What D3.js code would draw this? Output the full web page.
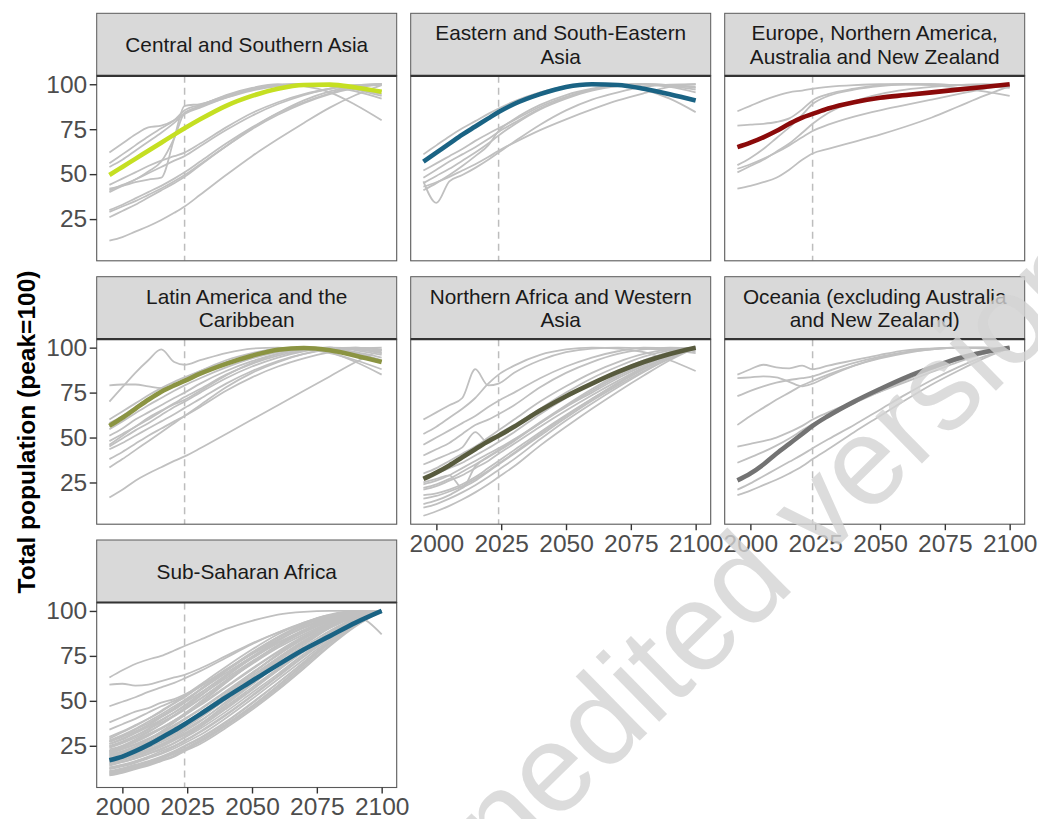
<!DOCTYPE html>
<html><head><meta charset="utf-8">
<script src="https://cdn.jsdelivr.net/npm/d3@7"></script>
<style>
body{margin:0;background:#fff;}
svg{display:block;font-family:"Liberation Sans",Arial,sans-serif;}
</style></head><body>
<svg id="chart" width="1038" height="819"></svg>
<script>
// ---------------- DATA ----------------
const years = [1995, 2000, 2005, 2010, 2015, 2020, 2024, 2030, 2040, 2050, 2060, 2070, 2080, 2090, 2100];
const xTicks = [2000, 2025, 2050, 2075, 2100];
const yTicks = [25, 50, 75, 100];
const baseYear = 2024;
const regionLabels = [
  ["Central and Southern Asia"],
  ["Eastern and South-Eastern", "Asia"],
  ["Europe, Northern America,", "Australia and New Zealand"],
  ["Latin America and the", "Caribbean"],
  ["Northern Africa and Western", "Asia"],
  ["Oceania (excluding Australia", "and New Zealand)"],
  ["Sub-Saharan Africa"]
];
const highlightColors = ["#c5df22", "#1a6384", "#8b0a0a", "#8b9442", "#585b3e", "#737373", "#1a6384"];

// regional aggregate (highlighted) series
const csaRegion  = [49.5, 54, 58.5, 63, 67.5, 72, 75.5, 80.5, 88, 93.5, 97.5, 99.6, 99.8, 98.2, 95.8];
const esaRegion  = [57, 62, 67, 72, 76.5, 81, 84.5, 89, 94.5, 98.5, 100, 99.6, 97.5, 94.5, 91];
const eurRegion  = [65, 67.5, 70.5, 74, 78, 81.5, 83.5, 86.5, 90, 92.5, 94, 95.5, 97, 98.5, 100];
const lacRegion  = [56.5, 61, 66, 71, 75.5, 79, 81.5, 85.5, 91, 95.5, 98.8, 99.8, 98.5, 95.5, 92];
const nawaRegion = [27, 30.5, 34.5, 39, 43.5, 48, 51, 56, 65, 73, 80, 86.5, 92, 96.5, 100];
const oceRegion  = [26.2, 30, 35, 41, 46.5, 52, 56.5, 62, 70, 77, 83.5, 89, 94, 97.5, 100];
const ssaRegion  = [17, 19, 22, 25.5, 29.5, 33.5, 37, 42.5, 52, 61, 70, 78.5, 86, 93.5, 100];

// country series (grey)
const csaCountries = [
  [62, 67, 72, 76, 77, 80, 84, 88, 94, 98, 100, 99, 95.5, 88.5, 80],
  [56, 61, 66, 71, 75.5, 80, 85.5, 88.5, 93.5, 97.5, 99.5, 100, 99, 96, 92],
  [54, 58, 63, 68, 73, 78.5, 83.5, 87, 92.5, 97, 99.5, 100, 99.5, 97.5, 94.5],
  [42, 43.5, 45.5, 47, 48, 70, 88, 89, 93, 97, 99.5, 100, 99.5, 98, 96],
  [41, 44, 47, 51.5, 57, 70, 84, 87.5, 92.5, 96.5, 99, 100, 99, 97, 93.5],
  [44, 47.5, 51, 54.5, 57.5, 60, 62, 67, 76, 84, 90, 94.5, 97.5, 99.5, 100],
  [40, 43.5, 47, 50.5, 54, 57.5, 60, 65.5, 74.5, 82.5, 89, 94, 97.5, 99.5, 100],
  [30, 33, 36.5, 40, 43.5, 47.5, 51, 57, 67, 76, 84, 90, 95, 98.5, 100],
  [29, 32, 35, 38.5, 42, 46, 49.5, 55.5, 65.5, 75, 83, 89.5, 94.5, 98, 100],
  [26, 29.5, 33, 37, 41, 45, 48.5, 55, 65.5, 75.5, 84, 91, 96, 99, 100],
  [13, 15, 18, 21, 24.5, 28.5, 32, 38.5, 49.5, 60, 69.5, 78.5, 87, 94, 99.5]
];
const esaCountries = [
  [61, 66, 71, 75.5, 79.5, 83.5, 86.5, 90.5, 95.5, 98.8, 100, 99.5, 97, 92, 84.5],
  [52, 56, 60, 64, 68.5, 72.5, 75.5, 80, 87.5, 93, 97, 99.5, 100, 98.5, 95.5],
  [48, 52.5, 57, 61, 65, 69.5, 73.5, 78.5, 86.5, 92.5, 97, 99.5, 100, 99, 97],
  [45, 49, 53, 57.5, 62, 67, 71.5, 77.5, 86, 92, 96.5, 99, 100, 99.5, 98],
  [43, 45.5, 48.5, 52, 55.5, 59.5, 63, 67.5, 74.5, 80.5, 86, 91, 95, 98.5, 100],
  [46, 34, 46, 49.5, 53.5, 58, 62, 68, 77.5, 85.5, 91.5, 95.5, 98.5, 99.8, 100],
  [41, 45, 49.5, 54.5, 60, 66, 74, 80.5, 88.5, 94, 97.5, 99.5, 100, 99.5, 98.5]
];
const eurCountries = [
  [85, 88, 91, 93.5, 95.5, 96.5, 97.5, 98.5, 99.5, 100, 100, 99.5, 98, 96, 93.5],
  [77, 77.5, 78, 79, 81, 86, 91, 94.5, 97.5, 99.5, 100, 100, 99.5, 99, 98],
  [55, 59, 64, 70, 76, 83, 89, 93.5, 97, 99, 100, 100, 99.5, 99, 98.5],
  [51, 54.5, 58, 62.5, 67, 73, 78, 84, 90.5, 94.5, 97, 98.5, 99.5, 100, 99.5],
  [53, 55.5, 58.5, 62, 66, 70.5, 74, 77.5, 82, 85.5, 88.5, 91.5, 94.5, 97.5, 100],
  [42, 43.5, 45.5, 48, 52.5, 58, 61.5, 64, 68, 72, 76.5, 81.5, 87.5, 93.5, 99]
];
const lacCountries = [
  [60, 64.5, 69, 73.5, 77.5, 81, 83.5, 87, 92, 96, 98.8, 100, 99.5, 97.5, 94.5],
  [58, 62, 67, 71.5, 75.5, 79, 82, 86, 91.5, 95.5, 98.5, 100, 99.5, 97, 93],
  [54.6, 59, 63.5, 68, 72, 76, 79, 83, 89, 94, 97.5, 99.5, 100, 98.5, 96],
  [51, 55, 60, 64, 68, 72, 75, 80, 87, 92.5, 96.5, 99, 100, 99, 97],
  [48, 52, 56, 61, 65, 69, 72.5, 77, 85, 91, 95.5, 98.5, 100, 99.5, 98],
  [45, 49.5, 54, 58, 62.5, 67, 70, 75, 83, 89.5, 94.5, 98, 99.8, 99.5, 97],
  [43.5, 47, 51, 55, 59, 63, 66.5, 71.5, 80, 87, 92.5, 96.5, 99, 100, 99],
  [38, 42, 46.5, 51, 55, 59, 62, 67, 76, 83.5, 89.5, 94, 97.5, 99.5, 100],
  [33.3, 38, 43, 48, 53, 58, 62, 68, 78, 86, 92, 96.5, 99.5, 100, 98.5],
  [79, 79.5, 79.5, 78.5, 77.5, 79, 81, 85, 91, 95.5, 98.5, 100, 99.5, 96.5, 92.5],
  [70, 78, 86, 93, 99, 92, 90.5, 93, 97, 99.5, 100, 99, 97, 93, 88],
  [16.7, 21, 26, 30, 33.5, 37, 39.5, 44, 52, 60, 68, 76, 84, 92, 99],
  [56, 61, 66, 70.5, 75, 79, 82.5, 87, 93, 97, 99.5, 100, 97.5, 92, 85],
  [46, 51, 56, 60, 64.5, 68.5, 71, 76, 84.5, 91.5, 96.5, 99.5, 100, 97, 92.5]
];
const nawaCountries = [
  [60, 64, 68, 72, 88, 79, 80, 86, 93, 97.5, 99.5, 100, 99.5, 98.5, 97],
  [52, 56, 61, 66, 72, 80, 85, 90, 96, 99, 100, 99.5, 97.5, 93, 87],
  [46, 50, 54, 58, 62, 67, 70.5, 75, 83, 89.5, 94.5, 98, 100, 99.5, 98],
  [40, 43.5, 47, 52, 57, 60, 63, 68, 78, 86, 92, 96.5, 99, 100, 99.5],
  [35, 38, 41, 44.5, 53, 47, 52, 57, 66, 75, 83, 89.5, 95, 98.5, 100],
  [30, 33, 37, 41, 45, 50, 54, 60, 70, 78.5, 86, 92, 96.5, 99, 100],
  [28, 30, 33, 36, 40, 44, 47.5, 53, 63, 72, 80, 87, 93, 97.5, 100],
  [24, 26, 29, 33, 37, 41, 44, 49, 58, 67, 75, 83, 90, 96, 100],
  [21, 23, 26, 29, 33, 37, 41, 46.5, 56, 65, 73.5, 81.5, 89, 95, 100],
  [18, 19, 21, 24, 28, 33, 37, 43, 53, 62.5, 71.5, 80, 88, 95, 100],
  [13, 15, 18, 22, 26, 31, 35, 41, 51, 61, 70.5, 79, 87, 94, 100],
  [6.5, 9, 12, 15.5, 19.5, 24, 28, 34, 45.5, 56, 66, 75.5, 84.5, 93, 100],
  [25, 27, 29, 22, 34, 39, 42.5, 48, 58, 67.5, 76, 84, 91, 96.5, 100],
  [16, 17.5, 20, 23, 27, 31.5, 35.5, 41.5, 52, 62, 71.5, 80.5, 88.5, 95, 100],
  [11, 13, 16, 19.5, 23.5, 28, 32, 38, 49, 59.5, 69, 78, 86.5, 94, 100],
  [22, 24, 27, 31, 35, 39.5, 43, 48.5, 58.5, 68, 77, 85, 92, 97, 100]
];
const oceCountries = [
  [85, 88, 90.5, 89, 88.5, 90, 88, 90, 93, 96, 98.5, 99.5, 100, 100, 99.5],
  [83, 83.5, 84, 83.5, 81, 78.5, 80, 84, 90, 94.5, 97.5, 99.5, 100, 99.5, 98.5],
  [73, 76, 78.5, 80.5, 82, 83, 84, 87, 91.5, 95, 97.5, 99, 100, 100, 99.5],
  [57, 62, 66.5, 71, 75, 79, 81.5, 85, 90, 94, 97, 99, 100, 100, 99],
  [45, 46.5, 48, 50, 53, 56.5, 60, 64, 70, 75.5, 81, 86.5, 92, 96.5, 100],
  [36, 39, 42, 45.5, 49.5, 54, 57.5, 62, 69, 75.5, 82, 88, 93, 97, 100],
  [21, 24.5, 28.5, 32.5, 36.5, 40.5, 44, 49, 57, 65.5, 74, 82, 89, 95, 99.5],
  [18, 20.5, 23.5, 26.5, 30, 34, 38, 43.5, 53, 62, 71, 79.5, 87, 94, 100]
];
const ssaCountries = [
  [30, 33, 36.5, 40, 44, 48.5, 52, 58, 67, 76, 84, 90.5, 95.5, 98.5, 100],
  [28, 31, 34.5, 38.5, 42.5, 47, 50.5, 56, 65.5, 74.5, 82.5, 89, 94.5, 98, 100],
  [27, 30, 33, 36.5, 41, 45, 49, 54.5, 64, 73.5, 82, 89.5, 95, 99, 100],
  [26, 28.5, 32, 35.5, 39.5, 43.5, 47, 53, 62.5, 72, 80.5, 88, 94, 98, 100],
  [25, 27.5, 30.5, 34, 38, 42, 45.5, 51, 61, 70.5, 79.5, 87, 93.5, 98, 100],
  [24, 26.5, 29.5, 33, 37, 41.5, 45, 51, 61.5, 71.5, 81, 89, 95, 99, 100],
  [23, 25, 28, 31.5, 35, 39, 42.5, 48, 58, 68, 77.5, 86, 93, 98, 100],
  [22, 24.5, 27.5, 31, 34.5, 38.5, 42, 47.5, 57.5, 67.5, 77, 85.5, 92.5, 97.5, 100],
  [21, 23.5, 26, 29, 32.5, 36.5, 40, 45.5, 55.5, 65.5, 75.5, 84.5, 92, 97.5, 100],
  [20, 22, 24.5, 27.5, 31, 35, 38, 43.5, 53.5, 64, 74, 83.5, 91.5, 97, 100],
  [19, 21, 23.5, 26.5, 30, 33.5, 37, 42.5, 52.5, 63, 73.5, 83, 91, 97, 100],
  [18, 20, 22.5, 25.5, 28.5, 32, 35.5, 41, 51, 61.5, 72, 82, 90.5, 96.5, 100],
  [17, 19, 21, 24, 27, 30.5, 34, 39, 49, 59.5, 70, 80, 89, 96, 100],
  [16, 18, 20, 22.5, 25.5, 29, 32, 37, 47, 57.5, 68, 78.5, 88, 95.5, 100],
  [15, 17, 19, 21.5, 24.5, 28, 31, 36, 46, 56.5, 67, 77.5, 87, 95, 100],
  [14, 16, 18, 20.5, 23, 26.5, 29.5, 34.5, 44, 54.5, 65, 76, 86, 94.5, 100],
  [13, 14.5, 16.5, 19, 22, 25, 28, 33, 42.5, 53, 64, 75, 85.5, 94, 100],
  [12, 13.5, 15.5, 18, 20.5, 23.5, 26.5, 31, 40.5, 51, 62, 73, 84, 93.5, 100],
  [11, 12.5, 14.5, 16.5, 19, 22, 25, 29.5, 38.5, 49, 60, 71.5, 83, 93, 100],
  [10, 11.5, 13.5, 15.5, 18, 21, 23.5, 28, 37, 47, 58, 70, 82, 92.5, 100],
  [9, 10.5, 12.5, 14.5, 17, 19.5, 22.5, 27, 36, 46, 57, 69, 81, 92, 100],
  [8.5, 10, 12, 14, 16.5, 19, 22, 26, 35, 45, 56, 68, 80.5, 91.5, 100],
  [29, 32.5, 36, 40, 44.5, 49, 53, 59, 69, 78.5, 87, 93.5, 98, 100, 99],
  [26, 29, 32.5, 36.5, 41, 45.5, 49.5, 56, 66.5, 76.5, 85.5, 92.5, 97.5, 100, 99.5],
  [22, 25, 28.5, 32.5, 37, 42, 46, 52.5, 63.5, 74, 83.5, 91, 96.5, 99.5, 100],
  [18, 21, 24.5, 28.5, 33, 38, 42, 48.5, 60, 71, 81, 89, 95.5, 99, 100],
  [24.5, 27, 30.5, 34.5, 39, 43.5, 47.5, 54, 64.5, 74.5, 83.5, 91, 96.5, 99.5, 100],
  [21.5, 24, 27, 30.5, 34.5, 39, 43, 49.5, 60.5, 71, 80.5, 88.5, 94.5, 98.5, 100],
  [20.5, 23, 25.5, 28.5, 32, 36, 39.5, 45, 55, 65.5, 75.5, 85, 93, 98, 100],
  [19.5, 21.5, 24, 27, 30.5, 34, 37.5, 43, 54, 65, 76, 85.5, 93, 98, 100],
  [17.5, 19.5, 22, 25, 28, 31.5, 35, 40.5, 51, 62, 73, 83, 91.5, 97.5, 100],
  [16.5, 18.5, 20.5, 23, 26, 29.5, 33, 38.5, 49.5, 61, 72, 82.5, 91, 97, 100],
  [15.5, 17.5, 19.5, 22, 25, 28.5, 31.5, 37, 48, 59, 70.5, 81, 90.5, 97, 100],
  [14.5, 16, 18, 20.5, 23.5, 26.5, 30, 35.5, 45.5, 56, 67, 78, 88, 96, 100],
  [12.5, 14, 16, 18.5, 21, 24.5, 27.5, 32.5, 42, 52.5, 63.5, 74.5, 85, 94, 100],
  [10.5, 12, 14, 16, 18.5, 21.5, 24.5, 29, 38, 48.5, 60, 71.5, 83, 93, 100],
  [9.5, 11, 13, 15, 17.5, 20.5, 23, 27.5, 36.5, 47, 58.5, 70.5, 82.5, 92.5, 100],
  [27.5, 30.5, 34, 37.5, 41.5, 46, 50, 56.5, 67, 77, 85.5, 92.5, 97, 99.5, 100],
  [63, 67, 70.5, 73, 75, 78, 80.5, 84, 90, 94.5, 98, 99.5, 100, 100, 99.5],
  [59, 59.5, 58.5, 59, 61, 63, 64.5, 68, 75, 82, 88, 93, 97.5, 97, 87],
  [47, 49.5, 52, 55, 57.5, 60, 62.5, 66.5, 74, 81.5, 88, 93.5, 97.5, 99.5, 100],
  [38, 41, 44, 46, 49, 51, 53.5, 58, 67, 76, 84, 91, 96, 99, 100],
  [34, 37, 40, 43.5, 47, 50, 53, 58, 67.5, 76.5, 85, 92, 97, 99.5, 100]
];

const regionSeries = [csaRegion, esaRegion, eurRegion, lacRegion, nawaRegion, oceRegion, ssaRegion];
const countrySeries = [csaCountries, esaCountries, eurCountries, lacCountries, nawaCountries, oceCountries, ssaCountries];

// ---------------- LAYOUT ----------------
const svg = d3.select("#chart");
const FONT = '"Liberation Sans", Arial, sans-serif';
const colX = [96.7, 410.7, 724.7];
const rowTop = [13.3, 276.7, 540];
const panelW = 300, stripH = 62.5, bodyH = 185;

const x = d3.scaleLinear().domain([1990.1, 2105.8]).range([0, panelW]);
const y = d3.scaleLinear().domain([1.8, 104.7]).range([bodyH, 0]);

const line = d3.line()
  .x((d, i) => x(years[i]))
  .y(d => y(d))
  .curve(d3.curveMonotoneX);

svg.append("rect").attr("width", 1038).attr("height", 819).attr("fill", "#fff");

const defs = svg.append("defs");
defs.append("clipPath").attr("id", "bodyClip")
  .append("rect").attr("x", 0).attr("y", 0).attr("width", panelW).attr("height", bodyH);

regionLabels.forEach((lab, i) => {
  const col = i % 3, row = Math.floor(i / 3);
  const g = svg.append("g").attr("transform", `translate(${colX[col]},${rowTop[row]})`);

  // strip
  g.append("rect").attr("x", 0).attr("y", 0).attr("width", panelW).attr("height", stripH)
    .attr("fill", "#d9d9d9").attr("stroke", "#5a5a5a").attr("stroke-width", 1);
  const st = g.append("text").attr("text-anchor", "middle")
    .attr("font-family", FONT).attr("font-size", 20.8).attr("fill", "#1a1a1a");
  const lh = 23.4;
  lab.forEach((t, k) => {
    const cy = stripH / 2 + (k - (lab.length - 1) / 2) * lh;
    st.append("tspan").attr("x", panelW / 2).attr("y", cy).attr("dy", "0.35em").text(t);
  });

  // body
  const b = g.append("g").attr("transform", `translate(0,${stripH})`);
  b.append("rect").attr("width", panelW).attr("height", bodyH).attr("fill", "#fff");
  const inner = b.append("g").attr("clip-path", "url(#bodyClip)");

  inner.append("line")
    .attr("x1", x(baseYear)).attr("x2", x(baseYear))
    .attr("y1", 0).attr("y2", bodyH)
    .attr("stroke", "#bdbdbd").attr("stroke-width", 1.5).attr("stroke-dasharray", "7,5");

  inner.selectAll("path.country").data(countrySeries[i]).join("path")
    .attr("class", "country")
    .attr("d", d => line(d))
    .attr("fill", "none").attr("stroke", "#c0c0c0").attr("stroke-width", 1.8)
    .attr("stroke-linejoin", "round");

  inner.append("path").attr("d", line(regionSeries[i]))
    .attr("fill", "none").attr("stroke", highlightColors[i]).attr("stroke-width", 4.6)
    .attr("stroke-linejoin", "round");

  b.append("rect").attr("width", panelW).attr("height", bodyH)
    .attr("fill", "none").attr("stroke", "#5a5a5a").attr("stroke-width", 1.1);
  g.append("line").attr("x1", 0).attr("x2", panelW).attr("y1", stripH).attr("y2", stripH)
    .attr("stroke", "#333").attr("stroke-width", 2.2);

  // axes
  if (col === 0) {
    const ay = b.append("g").call(d3.axisLeft(y).tickValues(yTicks).tickSize(7).tickPadding(2.5));
    styleAxis(ay);
  }
  const isBottom = (i === 6) || (row === 1 && col > 0);
  if (isBottom) {
    const ax = b.append("g").attr("transform", `translate(0,${bodyH})`)
      .call(d3.axisBottom(x).tickValues(xTicks).tickFormat(d3.format("d")).tickSize(6).tickPadding(4));
    styleAxis(ax);
  }
});

function styleAxis(a) {
  a.select(".domain").remove();
  a.selectAll(".tick line").attr("stroke", "#333").attr("stroke-width", 1.4);
  a.selectAll(".tick text").attr("fill", "#4d4d4d").attr("font-size", 24.5).attr("font-family", FONT);
}

// y-axis title
svg.append("text")
  .attr("transform", "translate(26,432) rotate(-90)")
  .attr("text-anchor", "middle").attr("dy", "0.35em")
  .attr("font-family", FONT).attr("font-weight", "bold").attr("font-size", 24.5).attr("fill", "#000")
  .text("Total population (peak=100)");

// watermark
svg.append("text")
  .attr("transform", "translate(440,937) rotate(-44.5)")
  .attr("font-family", FONT).attr("font-size", 125)
  .attr("fill", "#d3d3d3").attr("fill-opacity", 0.8)
  .text("Unedited version");
</script>
</body></html>
